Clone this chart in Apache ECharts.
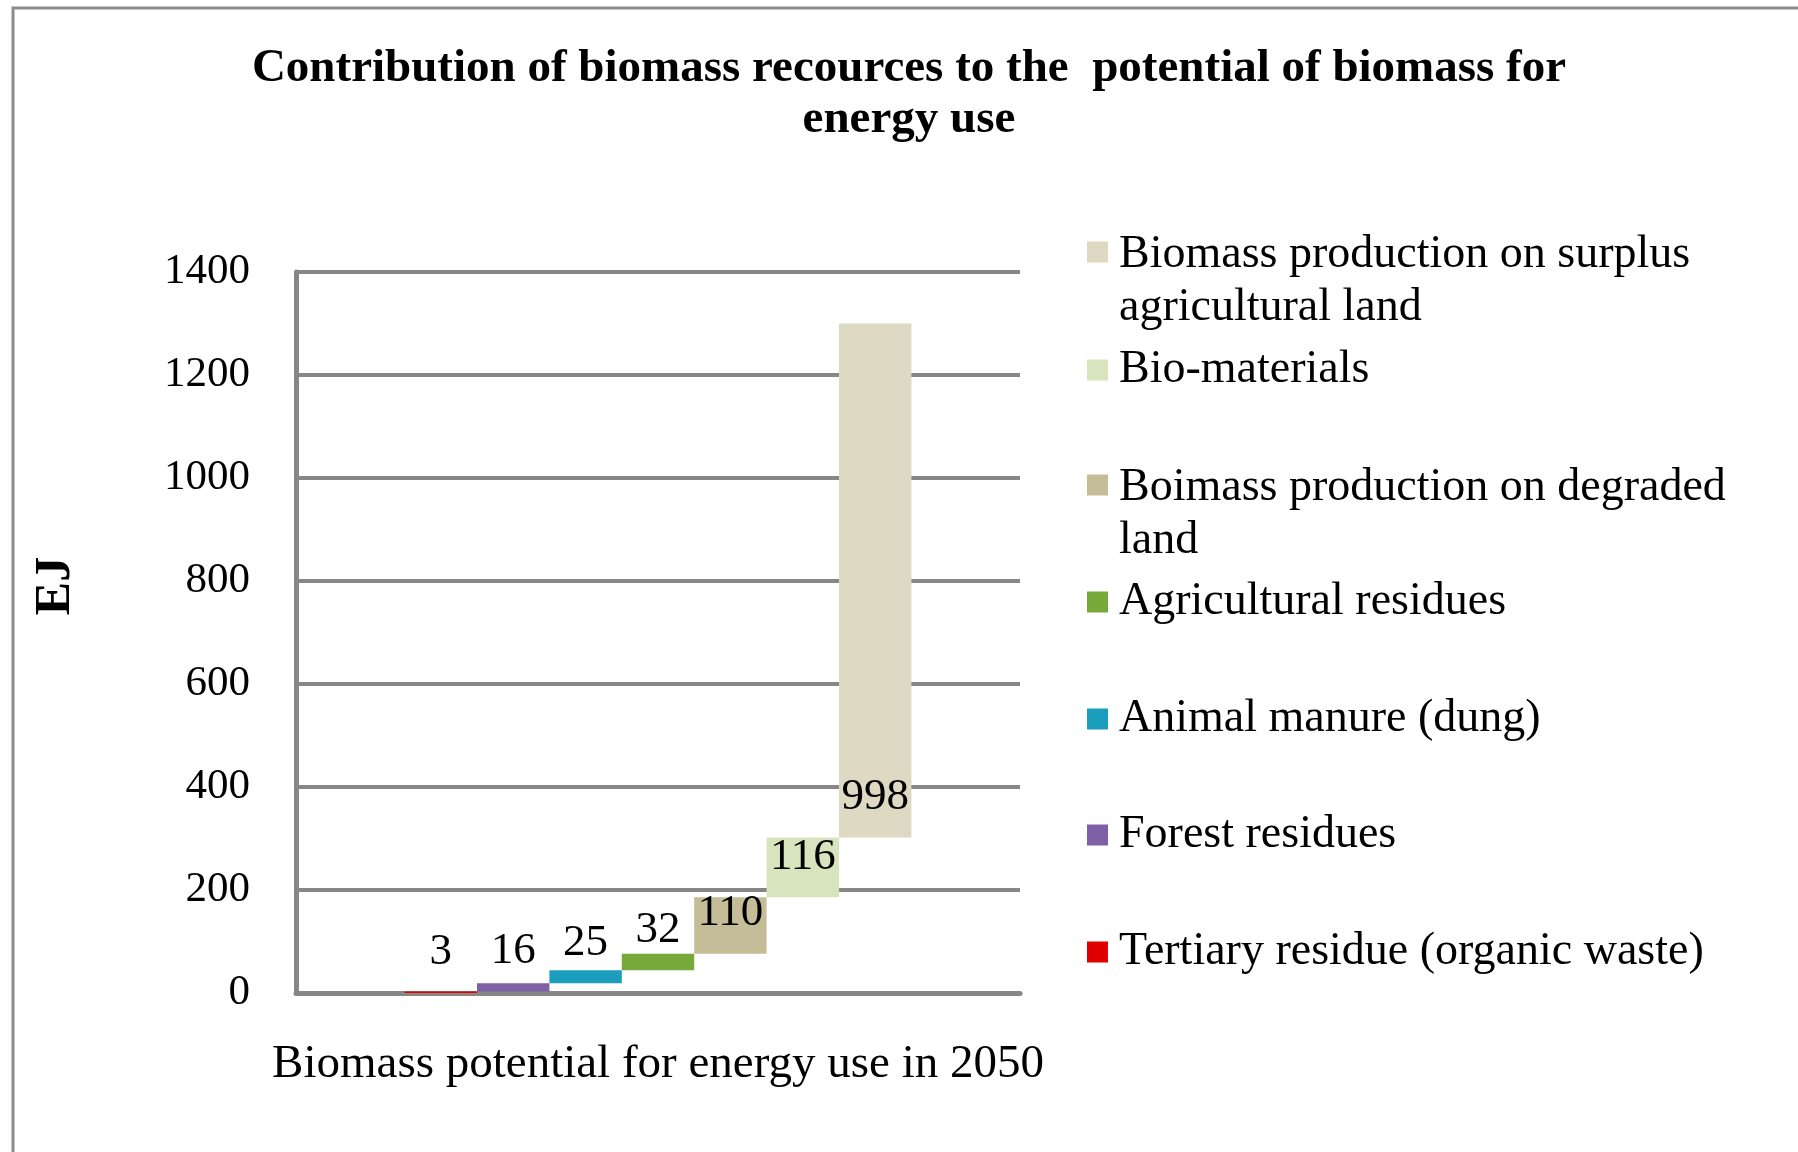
<!DOCTYPE html>
<html>
<head>
<meta charset="utf-8">
<script src="https://cdn.jsdelivr.net/npm/echarts@6/dist/echarts.min.js"></script>
<style>
  html, body { margin: 0; padding: 0; background: #ffffff; }
  #chart { width: 1798px; height: 1152px; }
</style>
</head>
<body>
<div id="chart"></div>
<script>
// Single category on the x axis
const categories = ['Biomass potential for energy use in 2050'];

// Biomass resources, in the order they are stacked (left to right)
const sourceNames = [
  'Tertiary residue (organic waste)',
  'Forest residues',
  'Animal manure (dung)',
  'Agricultural residues',
  'Boimass production on degraded land',
  'Bio-materials',
  'Biomass production on surplus agricultural land'
];

// Contribution of each resource, EJ
const sourceValues = [3, 16, 25, 32, 110, 116, 998];

// Value axis range
const yMin = 0;
const yMax = 1400;
const yStep = 200;

const sourceColors = ['#E00000', '#7F5FA5', '#1B9DBD', '#77A83A', '#C4BD97', '#D7E4BD', '#DDD9C3'];

// Legend labels that break onto a second line
const wrappedNames = {
  'Biomass production on surplus agricultural land': 'Biomass production on surplus\nagricultural land',
  'Boimass production on degraded land': 'Boimass production on degraded\nland'
};

const titleLines = [
  'Contribution of biomass recources to the  potential of biomass for',
  'energy use'
];

// Each segment floats on the running total of the ones before it
const bases = [];
let running = 0;
sourceValues.forEach(function (v) { bases.push(running); running += v; });

const SERIF = "'Liberation Serif', 'Times New Roman', serif";
const GRID_GRAY = '#878787';

const series = [];
sourceNames.forEach(function (name, i) {
  series.push({
    name: 'offset-' + i,
    type: 'bar',
    stack: 'seg' + i,
    data: [bases[i]],
    barGap: 0,
    barCategoryGap: '30%',
    itemStyle: { color: 'transparent' },
    silent: true,
    emphasis: { disabled: true },
    label: { show: false }
  });
  series.push({
    name: name,
    type: 'bar',
    stack: 'seg' + i,
    data: [sourceValues[i]],
    barGap: 0,
    barCategoryGap: '30%',
    itemStyle: { color: sourceColors[i] },
    label: {
      show: true,
      position: 'insideBottom',
      distance: 18,
      formatter: '{c}',
      fontFamily: SERIF,
      fontSize: 45,
      color: '#000000'
    }
  });
});

// Legend rows, top to bottom, with the centre of each row's first text line
const legendOrder = [6, 5, 4, 3, 2, 1, 0];
const legendLineCenters = [255, 370, 488, 602, 719, 835, 952];
// square marker aligned with the first line of a two-line label
const TALL_SQUARE = 'path://M0,0L21,0L21,21L0,21Z M0,80L0,80';

const legends = legendOrder.map(function (idx, r) {
  const name = sourceNames[idx];
  const twoLine = !!wrappedNames[name];
  return {
    data: [{ name: name, icon: twoLine ? TALL_SQUARE : 'rect' }],
    orient: 'vertical',
    left: 1087,
    top: legendLineCenters[r] - 26.5,
    padding: 0,
    itemWidth: 21,
    itemHeight: twoLine ? 80 : 21,
    selectedMode: false,
    formatter: function (n) { return wrappedNames[n] || n; },
    textStyle: {
      fontFamily: SERIF,
      fontSize: 46,
      lineHeight: 53,
      color: '#000000',
      padding: [0, 0, 0, 6]
    }
  };
});

const option = {
  backgroundColor: '#ffffff',
  animation: false,
  title: {
    text: titleLines.join('\n'),
    left: 909,
    top: 43,
    padding: 0,
    textAlign: 'center',
    textStyle: {
      fontFamily: SERIF,
      fontWeight: 'bold',
      fontSize: 47,
      lineHeight: 51,
      color: '#000000'
    }
  },
  graphic: [{
    type: 'rect',
    silent: true,
    z: -10,
    shape: { x: 13, y: 8, width: 1900, height: 1300 },
    style: { fill: null, stroke: '#8c8c8c', lineWidth: 3 }
  }],
  legend: legends,
  grid: {
    left: 296,
    top: 272,
    width: 724,
    height: 721,
    containLabel: false
  },
  xAxis: {
    type: 'category',
    data: categories,
    axisLine: { show: true, lineStyle: { color: GRID_GRAY, width: 5 } },
    axisTick: { show: false },
    axisLabel: {
      fontFamily: SERIF,
      fontSize: 47,
      color: '#000000',
      margin: 48
    }
  },
  yAxis: {
    type: 'value',
    min: yMin,
    max: yMax,
    interval: yStep,
    name: 'EJ',
    nameLocation: 'middle',
    nameRotate: 90,
    nameGap: 215,
    nameTextStyle: {
      fontFamily: SERIF,
      fontWeight: 'bold',
      fontSize: 50,
      color: '#000000',
      padding: [0, 0, 0, 93]
    },
    axisLine: { show: true, lineStyle: { color: GRID_GRAY, width: 5 } },
    axisTick: { show: false },
    splitLine: { show: true, lineStyle: { color: GRID_GRAY, width: 4 } },
    axisLabel: {
      fontFamily: SERIF,
      fontSize: 43,
      color: '#000000',
      margin: 46,
      formatter: function (v) { return String(v); }
    }
  },
  series: series
};

const chart = echarts.init(document.getElementById('chart'), null, { renderer: 'canvas' });
chart.setOption(option);
</script>
</body>
</html>
